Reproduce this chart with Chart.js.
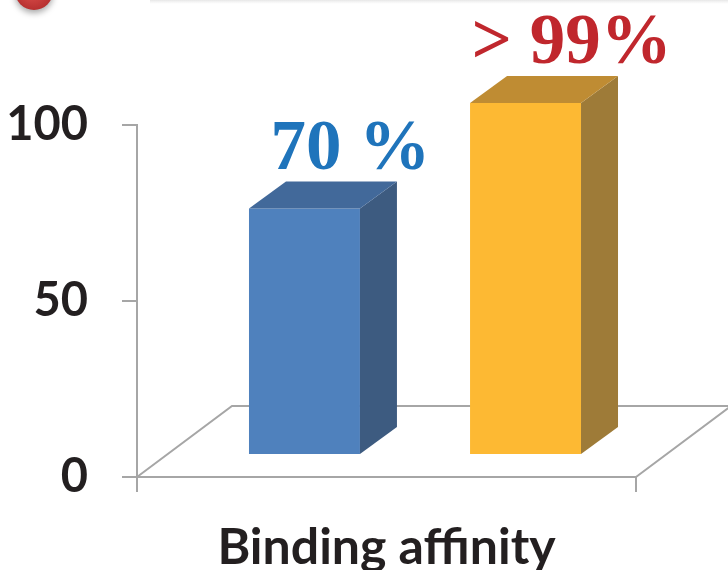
<!DOCTYPE html>
<html>
<head>
<meta charset="utf-8">
<script src="https://cdn.jsdelivr.net/npm/chart.js@4.4.1/dist/chart.umd.min.js"></script>
<style>
  html, body { margin: 0; padding: 0; background: #fff; }
  #wrap { width: 728px; height: 570px; position: relative; }
</style>
</head>
<body>
<div id="wrap"><canvas id="chart"></canvas></div>
<script>
// data
const categories = ['Binding affinity'];
const seriesValues = [70, 100];
const valueLabels = ['70 %', '> 99%'];
const yTickValues = [0, 50, 100];

// styles
const labelColors = ['#1f74bb', '#c0272d'];
const frontColors = ['#4f81bd', '#fdb933'];
const sideColors = ['#3d5b80', '#9e7b38'];
const topColors = ['#42699a', '#bf8c33'];
const axisGray = '#a6a6a6';

const FLOOR_DX = 28.5, FLOOR_DY = -22;  // where the bars stand on the floor
const DEPTH_X = 95, DEPTH_Y = -71;      // whole floor depth
const BAR_DX = 37, BAR_DY = -27;        // bar thickness

// floor plane + 3d faces + value labels
const box3d = {
  id: 'box3d',
  beforeDatasetsDraw(chart) {
    const ctx = chart.ctx;
    const a = chart.chartArea;
    ctx.save();
    ctx.strokeStyle = axisGray;
    ctx.lineWidth = 2;
    ctx.beginPath();
    ctx.moveTo(a.left, a.bottom);
    ctx.lineTo(a.left + DEPTH_X, a.bottom + DEPTH_Y);
    ctx.lineTo(a.right + DEPTH_X, a.bottom + DEPTH_Y);
    ctx.lineTo(a.right, a.bottom);
    ctx.stroke();
    ctx.restore();

    ctx.save();
    ctx.translate(FLOOR_DX, FLOOR_DY);
  },
  afterDatasetsDraw(chart) {
    const ctx = chart.ctx;
    chart.data.datasets.forEach((ds, i) => {
      const el = chart.getDatasetMeta(i).data[0];
      const { x, y, width, base } = el.getProps(['x', 'y', 'width', 'base'], true);
      const left = x - width / 2, right = x + width / 2;

      ctx.fillStyle = sideColors[i];
      ctx.beginPath();
      ctx.moveTo(right, y);
      ctx.lineTo(right + BAR_DX, y + BAR_DY);
      ctx.lineTo(right + BAR_DX, base + BAR_DY);
      ctx.lineTo(right, base);
      ctx.closePath();
      ctx.fill();

      ctx.fillStyle = topColors[i];
      ctx.beginPath();
      ctx.moveTo(left, y);
      ctx.lineTo(left + BAR_DX, y + BAR_DY);
      ctx.lineTo(right + BAR_DX, y + BAR_DY);
      ctx.lineTo(right, y);
      ctx.closePath();
      ctx.fill();

      ctx.fillStyle = labelColors[i];
      ctx.font = 'bold 71px "Liberation Serif", "Times New Roman", serif';
      ctx.textAlign = 'center';
      ctx.textBaseline = 'alphabetic';
      ctx.fillText(valueLabels[i], x + 46, y - 40);
    });
    ctx.restore();
  },
  afterDraw(chart) {
    // slide decoration in the top left corner
    const ctx = chart.ctx;
    ctx.save();
    const g = ctx.createLinearGradient(0, 0, 0, 4);
    g.addColorStop(0, '#e6e6e6');
    g.addColorStop(1, 'rgba(240,240,240,0)');
    ctx.fillStyle = g;
    ctx.fillRect(150, 0, 578, 4);

    ctx.shadowColor = 'rgba(0,0,0,0.35)';
    ctx.shadowBlur = 6;
    ctx.shadowOffsetY = 3;
    const rg = ctx.createRadialGradient(30, -14, 4, 34, -8, 20);
    rg.addColorStop(0, '#e0524f');
    rg.addColorStop(1, '#b32d2d');
    ctx.fillStyle = rg;
    ctx.beginPath();
    ctx.arc(34, -9, 19, 0, Math.PI * 2);
    ctx.fill();
    ctx.restore();
  }
};

new Chart(document.getElementById('chart'), {
  type: 'bar',
  data: {
    labels: categories,
    datasets: seriesValues.map((v, i) => ({
      label: valueLabels[i],
      data: [v],
      backgroundColor: frontColors[i],
      borderWidth: 0,
      categoryPercentage: 0.886,
      barPercentage: 0.502,
      clip: false
    }))
  },
  options: {
    responsive: true,
    maintainAspectRatio: false,
    animation: false,
    layout: { padding: { left: 0, right: 92, top: 125, bottom: 0 } },
    plugins: { legend: { display: false }, tooltip: { enabled: false } },
    scales: {
      x: {
        afterFit(scale) { scale.height = 93; },
        grid: { drawOnChartArea: false, color: axisGray, lineWidth: 2, tickLength: 15 },
        border: { color: axisGray, width: 2 },
        ticks: {
          color: '#231f20',
          padding: 26,
          font: { family: 'Lato', weight: 'bold', size: 50 }
        }
      },
      y: {
        min: yTickValues[0],
        max: yTickValues[yTickValues.length - 1],
        afterFit(scale) { scale.width = 137; },
        afterBuildTicks(scale) { scale.ticks = yTickValues.map(v => ({ value: v })); },
        grid: { drawOnChartArea: false, color: axisGray, lineWidth: 2, tickLength: 15 },
        border: { color: axisGray, width: 2 },
        ticks: {
          color: '#231f20',
          padding: 34,
          font: { family: 'Lato', weight: 'bold', size: 47 }
        }
      }
    }
  },
  plugins: [box3d]
});
</script>
</body>
</html>
